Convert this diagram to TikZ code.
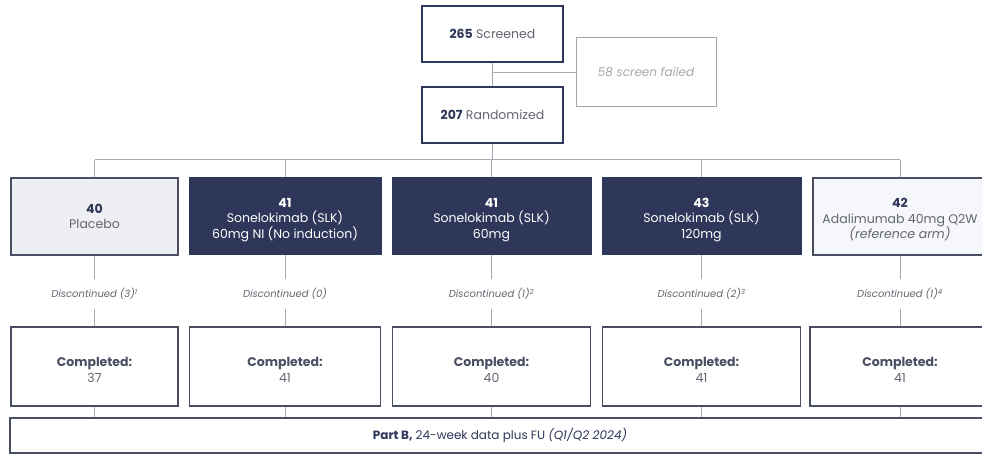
\documentclass[tikz,border=0pt]{standalone}
\usepackage{fontspec}
\setmainfont{Poppins}
\definecolor{navy}{HTML}{2E3659}
\definecolor{boxline}{HTML}{4A4E62}
\definecolor{linegrey}{HTML}{A6A9B4}
\definecolor{txtgrey}{HTML}{62656F}
\definecolor{failgrey}{HTML}{A8A8AC}
\definecolor{placfill}{HTML}{EEEFF2}
\definecolor{adafill}{HTML}{F6F7FA}
\tikzset{
  base/.style={rectangle, inner sep=0pt, align=center, font=\fontsize{12.5}{15.5}\selectfont},
  topbox/.style={base, draw=navy, line width=1.3pt, fill=white, text=txtgrey, minimum width=141pt, minimum height=56pt},
  failbox/.style={base, draw=failgrey, line width=1pt, fill=white, text=failgrey, minimum width=140pt, minimum height=69pt, font=\fontsize{12}{14}\selectfont\itshape},
  darkarm/.style={base, draw=navy, fill=navy, text=white, line width=1pt, minimum height=77pt},
  lightarm/.style={base, draw=boxline, line width=1.2pt, text=txtgrey, minimum height=77pt},
  disc/.style={base, minimum height=30pt, text=txtgrey, font=\fontsize{10}{12}\selectfont\itshape},
  compbox/.style={base, draw=boxline, line width=1.2pt, fill=white, text=txtgrey, minimum height=79pt},
  barbox/.style={base, draw=boxline, line width=1.2pt, fill=white, text=navy, minimum height=35pt, minimum width=980pt, font=\fontsize{12}{14}\selectfont},
  conn/.style={draw=linegrey, line width=1pt},
}
\newcommand{\numn}[1]{\textbf{\color{navy}#1}}
\newcommand{\dn}{\rule{0pt}{16pt}}
\begin{document}
\begin{tikzpicture}[x=1pt,y=-1pt]
\useasboundingbox (0,0) rectangle (982,454);
\clip (0,0) rectangle (982,454);
\fill[white] (0,0) rectangle (982,454);
% top
\node[topbox] (scr) at (492.5,34) {\numn{265} Screened};
\node[failbox] (fail) at (646,72.5) {58 screen failed};
\node[topbox] (rand) at (492.5,115) {\numn{207} Randomized};
\coordinate (bus) at (0,160);
% arms
\node[lightarm, fill=placfill, minimum width=167pt] (a1) at (94.5,216.5) {\numn{40}\\Placebo};
\node[darkarm, minimum width=192pt] (a2) at (285,216.5) {\dn\textbf{41}\\Sonelokimab (SLK)\\60mg NI (No induction)};
\node[darkarm, minimum width=199pt] (a3) at (491.5,216.5) {\dn\textbf{41}\\Sonelokimab (SLK)\\60mg};
\node[darkarm, minimum width=199pt] (a4) at (701.5,216.5) {\dn\textbf{43}\\Sonelokimab (SLK)\\120mg};
\node[lightarm, fill=adafill, minimum width=174pt] (a5) at (900,216.5) {\dn\numn{42}\\Adalimumab 40mg Q2W\\\textit{(reference arm)}};
% discontinued
\node[disc] (d1) at (94.5,294) {Discontinued (3)\textsuperscript{1}};
\node[disc] (d2) at (285,294) {Discontinued (0)};
\node[disc] (d3) at (491.5,294) {Discontinued (1)\textsuperscript{2}};
\node[disc] (d4) at (701.5,294) {Discontinued (2)\textsuperscript{3}};
\node[disc] (d5) at (900,294) {Discontinued (1)\textsuperscript{4}};
% completed
\node[compbox, minimum width=167pt] (c1) at (94.5,366.5) {\dn\textbf{\color{boxline}Completed:}\\37};
\node[compbox, minimum width=191pt] (c2) at (285,366.5) {\dn\textbf{\color{boxline}Completed:}\\41};
\node[compbox, minimum width=198pt] (c3) at (491.5,366.5) {\dn\textbf{\color{boxline}Completed:}\\40};
\node[compbox, minimum width=198pt] (c4) at (701.5,366.5) {\dn\textbf{\color{boxline}Completed:}\\41};
\node[compbox, minimum width=180pt] (c5) at (900,366.5) {\dn\textbf{\color{boxline}Completed:}\\41};
% bar
\node[barbox] (bar) at (500,435.5) {\textbf{Part B,} 24-week data plus FU \textit{(Q1/Q2 2024)}};
% connectors
\draw[conn] (scr.south) -- (rand.north);
\draw[conn] (scr.south |- fail.west) -- (fail.west);
\draw[conn] (rand.south) -- (rand.south |- bus);
\draw[conn] (a1.north |- bus) -- (a5.north |- bus);
\foreach \i in {1,...,5}{
  \draw[conn] (a\i.north |- bus) -- (a\i.north);
  \draw[conn] (a\i.south) -- (d\i.north);
  \draw[conn] (d\i.south) -- (c\i.north);
  \draw[conn] (c\i.south) -- (c\i.south |- bar.north);
}
\end{tikzpicture}
\end{document}
